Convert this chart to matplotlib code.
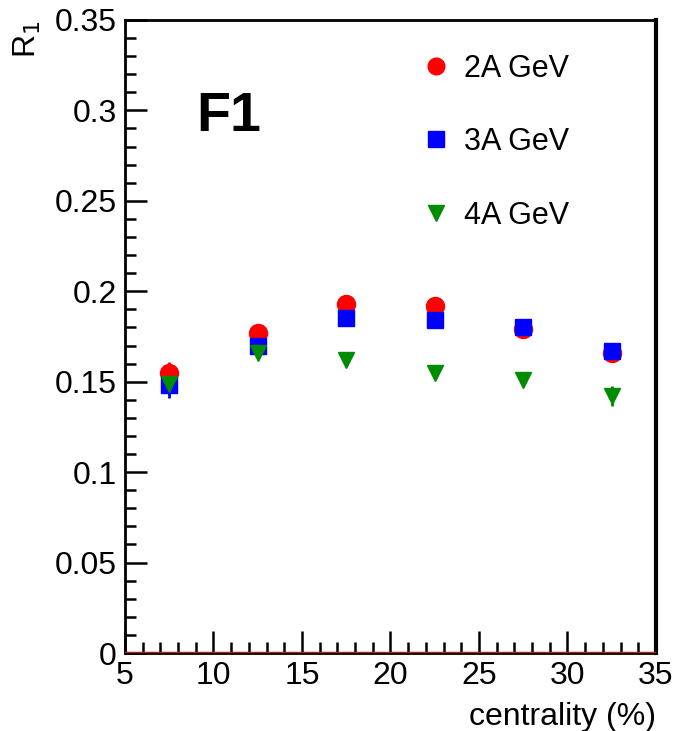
import matplotlib.pyplot as plt
from matplotlib.lines import Line2D
from matplotlib.ticker import MultipleLocator

plt.rcParams['font.family'] = ['Liberation Sans', 'DejaVu Sans']

##### Data #####
centrality = [7.5, 12.5, 17.5, 22.5, 27.5, 32.5]
r1_2A = [0.155, 0.177, 0.193, 0.192, 0.179, 0.166]
r1_3A = [0.148, 0.170, 0.185, 0.184, 0.180, 0.167]
r1_4A = [0.149, 0.166, 0.162, 0.155, 0.151, 0.142]
err_2A = [0.006, 0.003, 0.003, 0.003, 0.003, 0.003]
err_3A = [0.007, 0.003, 0.003, 0.003, 0.003, 0.003]
err_4A = [0.004, 0.003, 0.003, 0.003, 0.003, 0.0055]
labels = ['2A GeV', '3A GeV', '4A GeV']

##### Plot #####
fig = plt.figure(figsize=(6.73, 7.31), dpi=100)
ax = fig.add_axes([0.1857, 0.1067, 0.789, 0.866])

series = [
    (r1_2A, err_2A, 'o', '#ff0000', 13),
    (r1_3A, err_3A, 's', '#0000ff', 12),
    (r1_4A, err_4A, 'v', '#008c00', 12),
]
handles = []
for (vals, errs, mk, col, ms), lab in zip(series, labels):
    ax.errorbar(centrality, vals, yerr=errs, fmt=mk, color=col, ms=ms,
                mec=col, elinewidth=2, capsize=0)
    handles.append(Line2D([], [], ls='none', marker=mk, color=col, mec=col,
                          ms=12, label=lab))

ax.axhline(0, color='#c01818', lw=2.5, zorder=5)

ax.set_xlim(5, 35)
ax.set_ylim(0, 0.35)
ax.xaxis.set_major_locator(MultipleLocator(5))
ax.xaxis.set_minor_locator(MultipleLocator(1))
ax.yaxis.set_minor_locator(MultipleLocator(0.01))
ax.tick_params(which='both', direction='in', top=False, right=False,
               labelsize=23, width=1.8)
ax.tick_params(which='major', length=16, pad=6)
ax.tick_params(which='minor', length=8)
ax.set_yticks([0, 0.05, 0.1, 0.15, 0.2, 0.25, 0.3, 0.35])
ax.set_yticklabels(['0', '0.05', '0.1', '0.15', '0.2', '0.25', '0.3', '0.35'])
for s in ax.spines.values():
    s.set_linewidth(2)
ax.spines['right'].set_linewidth(3)

ax.set_xlabel('centrality (%)', fontsize=23, loc='right', labelpad=8)
ax.set_ylabel('R$_1$', fontsize=23, loc='top', labelpad=8)

ax.text(0.135, 0.825, 'F1', transform=ax.transAxes, fontsize=40,
        fontweight='bold')

ax.legend(handles=handles, loc='upper left', bbox_to_anchor=(0.50, 0.99),
          frameon=False, fontsize=22, labelspacing=1.42, handletextpad=0.3,
          handlelength=1.2, numpoints=1)

fig.savefig('out.png', dpi=100)
